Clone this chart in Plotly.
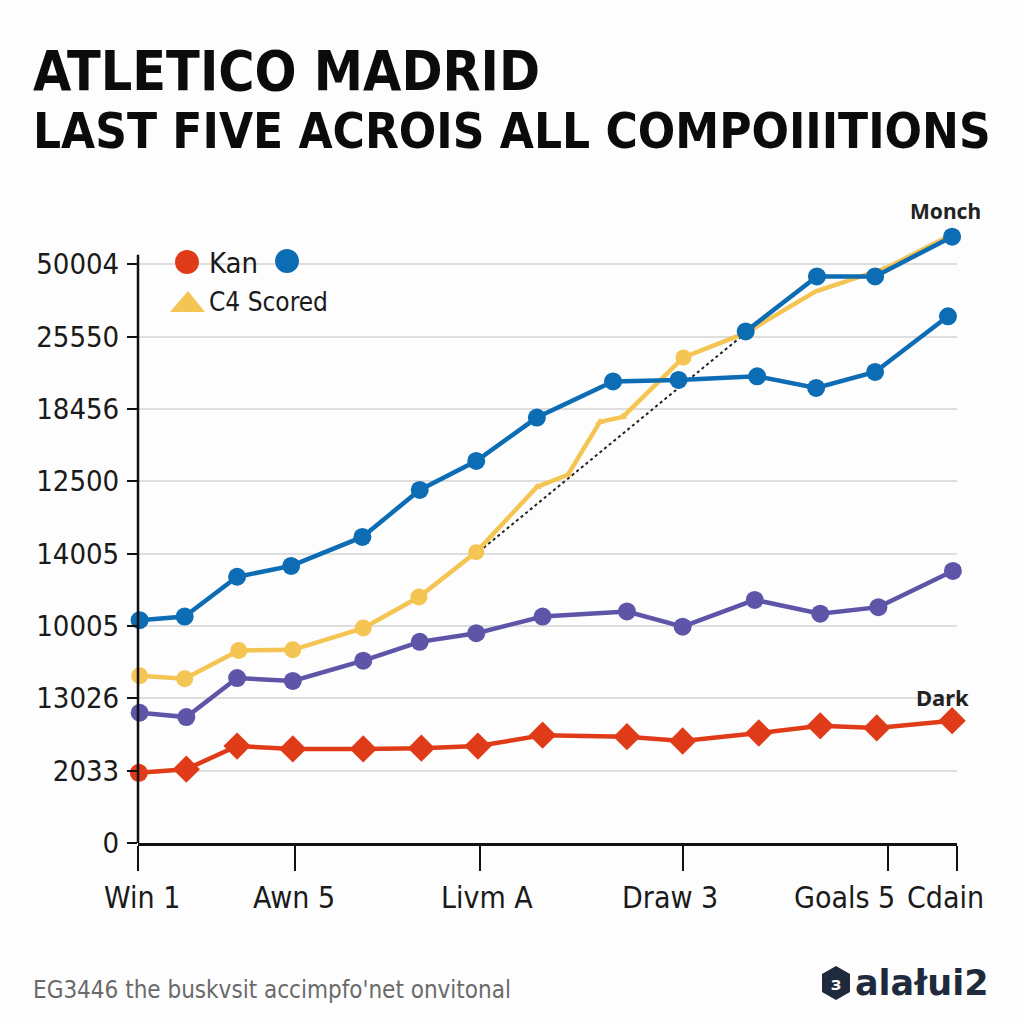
import plotly.graph_objects as go

# ---------------- data ----------------
y_tick_levels = [0, 1, 2, 3, 4, 5, 6, 7, 8]
y_tick_labels = ["0", "2033", "13026", "10005", "14005", "12500", "18456", "25550", "50004"]

x_tick_positions = [0, 19.2, 41.8, 66.5, 91.6, 100]
x_labels = ["Win 1", "Awn 5", "Livm A", "Draw 3", "Goals 5", "Cdain"]
x_label_positions = [0.5, 19.0, 42.6, 65.0, 86.3, 98.6]

kan_x = [0.1, 5.9, 12.1, 18.9, 27.5, 34.6, 41.5, 49.4, 59.7, 66.5, 75.8, 83.3, 90.2, 99.4]
kan_y = [0.97, 1.02, 1.34, 1.30, 1.30, 1.31, 1.34, 1.49, 1.47, 1.41, 1.52, 1.62, 1.59, 1.69]

purple_x = [0.2, 5.9, 12.1, 18.9, 27.5, 34.4, 41.3, 49.4, 59.7, 66.5, 75.3, 83.3, 90.4, 99.5]
purple_y = [1.80, 1.74, 2.28, 2.24, 2.52, 2.78, 2.90, 3.13, 3.20, 2.99, 3.36, 3.17, 3.26, 3.76]

scored_x = [0.2, 5.7, 12.3, 18.9, 27.5, 34.3, 41.3, 48.7, 52.5, 56.4, 59.2, 66.6, 74.2, 82.7, 91.4, 99.2]
scored_y = [2.31, 2.27, 2.66, 2.67, 2.97, 3.40, 4.02, 4.92, 5.09, 5.82, 5.89, 6.71, 7.05, 7.62, 7.95, 8.40]

blue_x = [0.2, 5.7, 12.1, 18.7, 27.4, 34.4, 41.3, 48.7, 58.0, 66.0, 75.6, 82.8, 90.0, 98.9]
blue_y = [3.08, 3.13, 3.68, 3.83, 4.23, 4.88, 5.28, 5.88, 6.38, 6.40, 6.45, 6.29, 6.51, 7.28]

monch_x = [74.2, 82.9, 90.0, 99.4]
monch_y = [7.07, 7.83, 7.83, 8.38]

trend_x = [42.2, 74.2]
trend_y = [4.08, 7.05]

# ---------------- styling ----------------
RED = "#E03B18"
BLUE = "#0D6DB4"
YELLOW = "#F5C553"
PURPLE = "#5E55A8"

NARROW = "DejaVu Sans Condensed, Liberation Sans Narrow, sans-serif"
SANS = "Noto Sans, Open Sans, DejaVu Sans, sans-serif"

# plot area in pixels: x 138..957, y 228..843
L, R, T, B = 138, 957, 228, 843


def px(x):
    return (x - L) / (R - L)


def py(y):
    return (B - y) / (B - T)


fig = go.Figure()

fig.add_trace(go.Scatter(
    x=trend_x, y=trend_y, mode="lines",
    line=dict(color="#222222", width=2, dash="dot"),
    showlegend=False, hoverinfo="skip"))

fig.add_trace(go.Scatter(
    x=kan_x, y=kan_y, mode="lines+markers", name="Kan",
    line=dict(color=RED, width=4.5),
    marker=dict(color=RED, opacity=1, size=[18] + [21] * (len(kan_x) - 1),
                symbol=["circle"] + ["diamond"] * (len(kan_x) - 1), line=dict(width=0)),
    cliponaxis=False, showlegend=False))

fig.add_trace(go.Scatter(
    x=purple_x, y=purple_y, mode="lines+markers", name="Purple",
    line=dict(color=PURPLE, width=4.5),
    marker=dict(color=PURPLE, opacity=1, size=18, symbol="circle", line=dict(width=0)),
    cliponaxis=False, showlegend=False))

scored_sizes = [17, 17, 17, 17, 17, 17, 16, 8, 8, 8, 8, 16, 0, 0, 8, 0]
scored_symbols = ["circle"] * 7 + ["triangle-up"] * 4 + ["circle", "circle", "circle", "triangle-down", "circle"]
fig.add_trace(go.Scatter(
    x=scored_x, y=scored_y, mode="lines+markers", name="C4 Scored",
    line=dict(color=YELLOW, width=4.5),
    marker=dict(color=YELLOW, opacity=1, size=scored_sizes, symbol=scored_symbols, line=dict(width=0)),
    cliponaxis=False, showlegend=False))

fig.add_trace(go.Scatter(
    x=blue_x, y=blue_y, mode="lines+markers", name="Blue",
    line=dict(color=BLUE, width=4.5),
    marker=dict(color=BLUE, opacity=1, size=18, symbol="circle", line=dict(width=0)),
    cliponaxis=False, showlegend=False))

fig.add_trace(go.Scatter(
    x=monch_x, y=monch_y, mode="lines+markers", name="Monch",
    line=dict(color=BLUE, width=4.5),
    marker=dict(color=BLUE, opacity=1, size=18, symbol="circle", line=dict(width=0)),
    cliponaxis=False, showlegend=False))

shapes = []
# y axis line (stops at the top tick like in the reference)
shapes.append(dict(type="line", xref="paper", yref="y", x0=0, x1=0, y0=0, y1=8.13,
                   line=dict(color="#111111", width=2.5)))
# legend markers
shapes.append(dict(type="circle", xref="paper", yref="paper",
                   x0=px(175), x1=px(199), y0=py(274), y1=py(250),
                   fillcolor=RED, line=dict(width=0)))
shapes.append(dict(type="circle", xref="paper", yref="paper",
                   x0=px(275), x1=px(299), y0=py(273), y1=py(249),
                   fillcolor=BLUE, line=dict(width=0)))
shapes.append(dict(type="path", xref="paper", yref="paper",
                   path=f"M {px(170)},{py(312)} L {px(205)},{py(312)} L {px(188)},{py(291)} Z",
                   fillcolor=YELLOW, line=dict(width=0)))
# logo hexagon
hx, hy = 836, 983
hexpath = "M " + " L ".join(
    f"{px(hx + dx)},{py(hy + dy)}" for dx, dy in
    [(0, -17), (14, -9), (14, 9), (0, 17), (-14, 9), (-14, -9)]) + " Z"
shapes.append(dict(type="path", xref="paper", yref="paper", path=hexpath,
                   fillcolor="#1F2B3C", line=dict(width=0)))

annotations = []
# title
annotations.append(dict(text="<b>ATLETICO MADRID</b>", xref="paper", yref="paper",
                        x=px(31), y=py(71), xanchor="left", yanchor="middle", showarrow=False,
                        font=dict(family=NARROW, size=55, color="#0B0B0E")))
annotations.append(dict(text="<b>LAST FIVE ACROIS ALL COMPOIIITIONS</b>", xref="paper", yref="paper",
                        x=px(31), y=py(131), xanchor="left", yanchor="middle", showarrow=False,
                        font=dict(family=NARROW, size=49, color="#0B0B0E")))
# legend text
annotations.append(dict(text="Kan", xref="paper", yref="paper", x=px(207), y=py(263),
                        xanchor="left", yanchor="middle", showarrow=False,
                        font=dict(family=NARROW, size=29, color="#1A1A1A")))
annotations.append(dict(text="C4 Scored", xref="paper", yref="paper", x=px(207), y=py(302),
                        xanchor="left", yanchor="middle", showarrow=False,
                        font=dict(family=NARROW, size=26, color="#1A1A1A")))
# series end labels
annotations.append(dict(text="<b>Monch</b>", xref="paper", yref="paper", x=px(945), y=py(211),
                        xanchor="center", yanchor="middle", showarrow=False,
                        font=dict(family=SANS, size=21, color="#222222")))
annotations.append(dict(text="<b>Dark</b>", xref="paper", yref="paper", x=px(942), y=py(697),
                        xanchor="center", yanchor="middle", showarrow=False,
                        font=dict(family=SANS, size=22, color="#222222")))
# x category labels
for xl, xv in zip(x_labels, x_label_positions):
    annotations.append(dict(text=xl, xref="x", yref="paper", x=xv, y=py(897),
                            xanchor="center", yanchor="middle", showarrow=False,
                            font=dict(family=NARROW, size=30, color="#1A1A1A")))
# footer
annotations.append(dict(text="EG3446 the buskvsit accimpfo'net onvitonal", xref="paper", yref="paper",
                        x=px(31), y=py(990), xanchor="left", yanchor="middle", showarrow=False,
                        font=dict(family=NARROW, size=24, color="#6A6A6A")))
annotations.append(dict(text="<b>alałui2</b>", xref="paper", yref="paper",
                        x=px(853), y=py(983), xanchor="left", yanchor="middle", showarrow=False,
                        font=dict(family="DejaVu Sans, sans-serif", size=35, color="#1F2B3C")))
annotations.append(dict(text="<b>ɜ</b>", xref="paper", yref="paper",
                        x=px(836), y=py(983), xanchor="center", yanchor="middle", showarrow=False,
                        font=dict(family=SANS, size=18, color="#FFFFFF")))

fig.update_layout(
    width=1024, height=1024,
    margin=dict(l=L, r=1024 - R, t=T, b=1024 - B, autoexpand=False),
    paper_bgcolor="#FDFDFD", plot_bgcolor="#FDFDFD",
    xaxis=dict(range=[0, 100], showgrid=False, zeroline=False,
               showline=True, linecolor="#111111", linewidth=2.5,
               tickmode="array", tickvals=x_tick_positions, ticktext=[""] * len(x_tick_positions),
               ticks="outside", ticklen=25, tickwidth=2, tickcolor="#111111"),
    yaxis=dict(range=[0, 8.5], showline=False, zeroline=False,
               showgrid=True, gridcolor="#DEDEDE", gridwidth=2,
               tickmode="array", tickvals=y_tick_levels, ticktext=y_tick_labels,
               ticks="outside", ticklen=10, tickwidth=2, tickcolor="#111111",
               ticklabelstandoff=2,
               tickfont=dict(family=NARROW, size=29, color="#1A1A1A")),
    shapes=shapes, annotations=annotations, showlegend=False,
)

fig.write_html("out.html")
